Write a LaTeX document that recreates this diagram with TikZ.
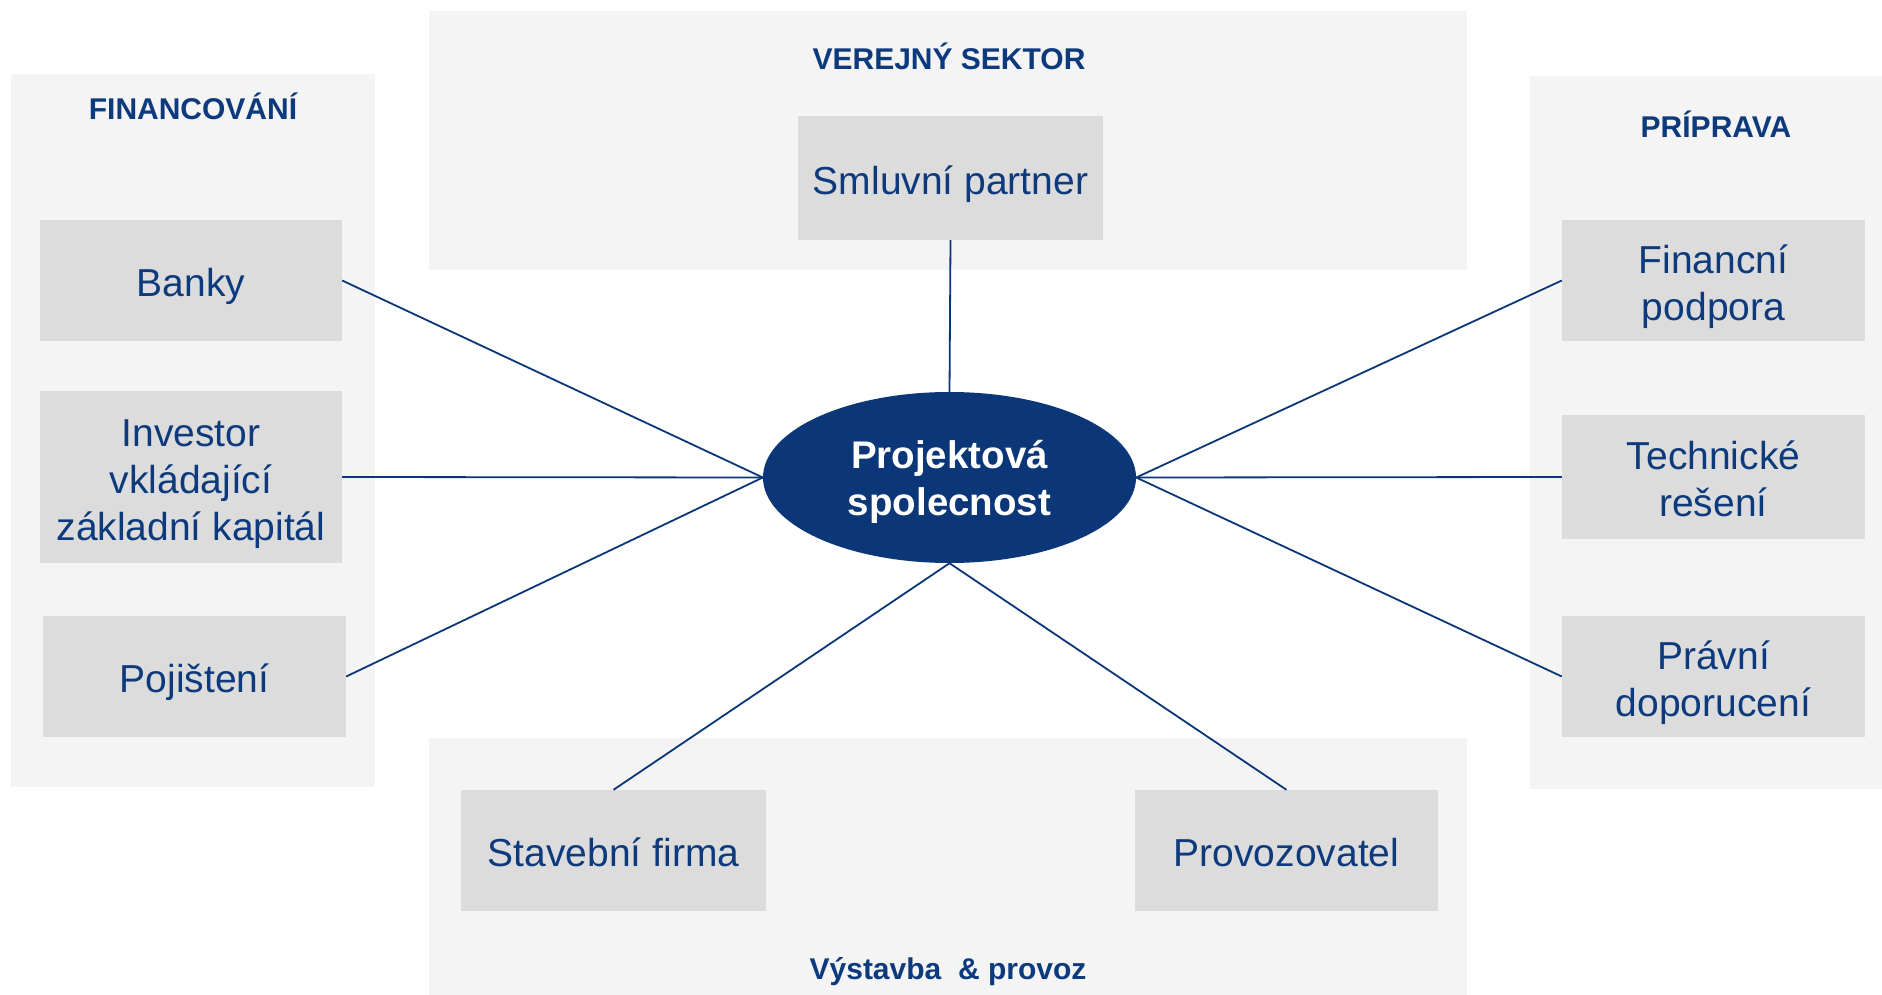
\documentclass[tikz,border=0pt]{standalone}
\usepackage{fontspec}
\setmainfont{Liberation Sans}
\usetikzlibrary{shapes.geometric}
\definecolor{navy}{HTML}{0B3677}
\definecolor{txtblue}{HTML}{0D3A7C}
\definecolor{panelgray}{HTML}{F4F4F4}
\definecolor{boxgray}{HTML}{DCDCDC}
\newcommand{\lowtext}[2]{\raisebox{#1}[\height][\depth]{\begin{tabular}{@{}c@{}}#2\end{tabular}}}
\tikzset{
  panel/.style={fill=panelgray, draw=none},
  itembox/.style={rectangle, fill=boxgray, draw=none, text=txtblue, inner sep=0pt,
    font=\fontsize{39}{47}\selectfont},
  heading/.style={text=txtblue, font=\bfseries\fontsize{30}{36}\selectfont, inner sep=0pt},
  link/.style={draw=navy, line width=1.8pt},
}
\begin{document}
\begin{tikzpicture}[x=1pt, y=-1pt]
\useasboundingbox (0,0) rectangle (1882,995);
% panels
\path[panel] (11,74) rectangle (375,787);
\path[panel] (429,11) rectangle (1467,270);
\path[panel] (1530,76) rectangle (1882,789);
\path[panel] (429,738) rectangle (1467,995);
% headings
\node[heading] (hfin) at (193,106.5) {FINANCOVÁNÍ};
\node[heading] (hver) at (949,56.5) {VEREJNÝ SEKTOR};
\node[heading] (hpri) at (1716,124.5) {PRÍPRAVA};
\node[heading] (hvys) at (948,972) {Výstavba~~\&~provoz};
% boxes
\node[itembox, minimum width=305pt, minimum height=124pt] (smluv) at (950.5,178) {\lowtext{-7pt}{Smluvní partner}};
\node[itembox, minimum width=302pt, minimum height=121pt] (banky) at (191,280.5) {\lowtext{-7pt}{Banky}};
\node[itembox, minimum width=302pt, minimum height=172pt] (invest) at (191,477) {\lowtext{-7pt}{Investor\\vkládající\\základní kapitál}};
\node[itembox, minimum width=303pt, minimum height=121pt] (pojist) at (194.5,676.5) {\lowtext{-7pt}{Pojištení}};
\node[itembox, minimum width=303pt, minimum height=121pt] (finpod) at (1713.5,280.5) {\lowtext{-7pt}{Financní\\podpora}};
\node[itembox, minimum width=303pt, minimum height=124pt] (tech) at (1713.5,477) {\lowtext{-7pt}{Technické\\rešení}};
\node[itembox, minimum width=303pt, minimum height=121pt] (pravni) at (1713.5,676.5) {\lowtext{-7pt}{Právní\\doporucení}};
\node[itembox, minimum width=305pt, minimum height=121pt] (stav) at (613.5,850.5) {\lowtext{-7pt}{Stavební firma}};
\node[itembox, minimum width=303pt, minimum height=121pt] (prov) at (1286.5,850.5) {\lowtext{-7pt}{Provozovatel}};
% central ellipse
\node[ellipse, fill=navy, draw=none, inner sep=0pt, minimum width=373pt, minimum height=171pt,
  text=white, font=\bfseries\fontsize{38.5}{46.5}\selectfont] (proj) at (949.5,477.5) {\lowtext{-5pt}{Projektová\\spolecnost}};
% connectors
\draw[link] (smluv.south) -- (proj.north);
\draw[link] (banky.east) -- (proj.west);
\draw[link] (invest.east) -- (proj.west);
\draw[link] (pojist.east) -- (proj.west);
\draw[link] (finpod.west) -- (proj.east);
\draw[link] (tech.west) -- (proj.east);
\draw[link] (pravni.west) -- (proj.east);
\draw[link] (stav.north) -- (proj.south);
\draw[link] (prov.north) -- (proj.south);
\end{tikzpicture}
\end{document}
